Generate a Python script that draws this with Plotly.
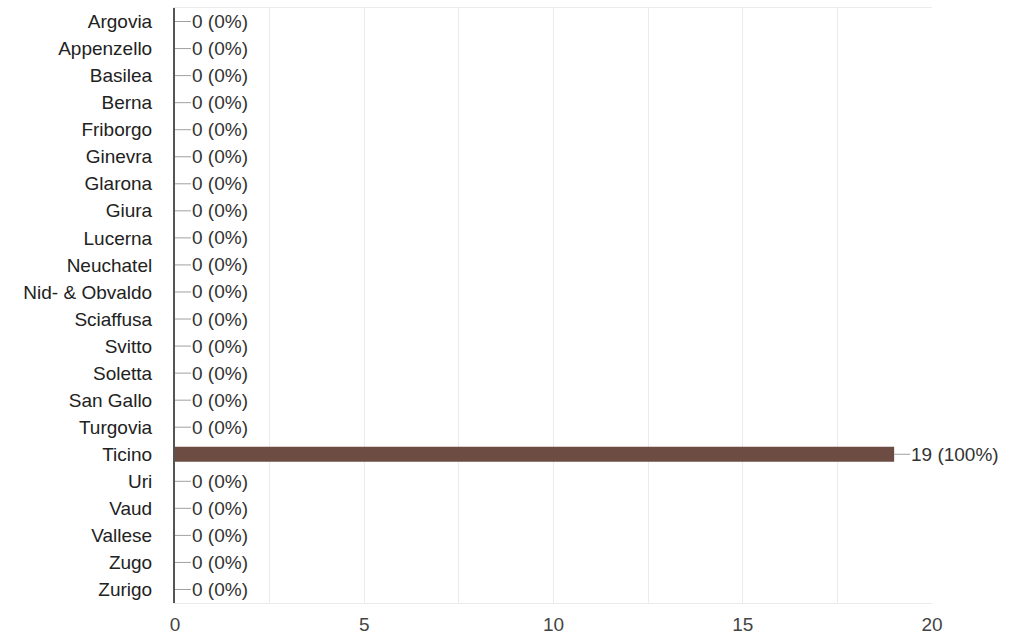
import plotly.graph_objects as go

categories = ["Argovia", "Appenzello", "Basilea", "Berna", "Friborgo", "Ginevra", "Glarona",
              "Giura", "Lucerna", "Neuchatel", "Nid- & Obvaldo", "Sciaffusa", "Svitto",
              "Soletta", "San Gallo", "Turgovia", "Ticino", "Uri", "Vaud", "Vallese",
              "Zugo", "Zurigo"]
values = [0, 0, 0, 0, 0, 0, 0, 0, 0, 0, 0, 0, 0, 0, 0, 0, 19, 0, 0, 0, 0, 0]
total = sum(values)
x_ticks = [0, 5, 10, 15, 20]

FONT = "Liberation Sans, Arial, sans-serif"
FS = 19

fig = go.Figure()
fig.add_trace(go.Bar(
    x=values, y=categories, orientation="h",
    marker=dict(color="#6d4c44", line=dict(width=0)),
    width=0.56, hoverinfo="skip",
))

for c, v in zip(categories, values):
    pct = round(100 * v / total) if total else 0
    fig.add_annotation(
        x=v, y=c, xref="x", yref="y",
        text=f"{v} ({pct}%)",
        showarrow=True, arrowhead=0, arrowwidth=1, arrowcolor="#a0a0a0",
        ax=16, ay=0, xanchor="left", yanchor="middle",
        standoff=0, startstandoff=0,
        font=dict(family=FONT, size=FS, color="#333333"),
        borderpad=0,
    )

fig.update_layout(
    width=1016, height=635,
    margin=dict(l=175, r=84, t=8, b=32, autoexpand=False),
    paper_bgcolor="white", plot_bgcolor="white",
    showlegend=False,
    font=dict(family=FONT, size=FS, color="#222222"),
)
fig.update_xaxes(
    range=[0, 20], tickvals=x_ticks, ticktext=[str(t) for t in x_ticks],
    showgrid=True, gridcolor="#ebebeb", gridwidth=1,
    minor=dict(dtick=2.5, tick0=0, showgrid=True, gridcolor="#ebebeb", gridwidth=1),
    zeroline=False, showline=True, mirror=True, linecolor="#ebebeb", linewidth=1,
    ticks="outside", ticklen=4, tickcolor="rgba(0,0,0,0)",
    tickfont=dict(family=FONT, size=FS, color="#444444"),
    automargin=False, fixedrange=True,
)
fig.update_yaxes(
    autorange="reversed", categoryorder="array", categoryarray=categories,
    showgrid=False, zeroline=False, showline=True, linecolor="#555555", linewidth=2,
    ticks="outside", ticklen=17, tickcolor="rgba(0,0,0,0)",
    tickfont=dict(family=FONT, size=FS, color="#222222"),
    automargin=False, fixedrange=True,
)

fig.write_html("out.html")
